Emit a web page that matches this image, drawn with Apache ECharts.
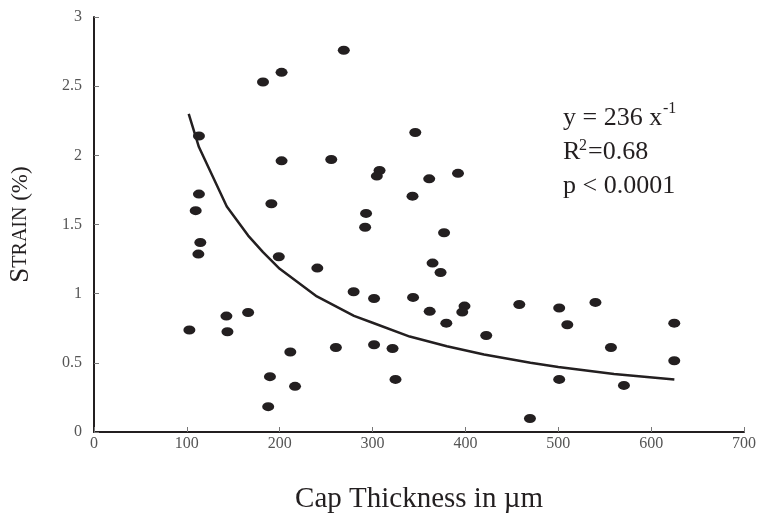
<!DOCTYPE html>
<html>
<head>
<meta charset="utf-8">
<script src="https://cdn.jsdelivr.net/npm/echarts@6/dist/echarts.min.js"></script>
<style>
  html, body { margin: 0; padding: 0; background: #fff; }
  #main { width: 763px; height: 516px; }
</style>
</head>
<body>
<div id="main"></div>
<script>
// cap thickness (um) and strain (%) per plaque
var capThickness = [182, 202, 113, 202, 113, 109.5, 191, 114.5, 269, 346,
  255.5, 307.5, 304.6, 361, 392, 343, 293, 292, 377, 112.4,
  199, 102.7, 142.6, 166, 143.7, 211.4, 189.5, 216.5, 187.6, 240.5,
  364.6, 373.2, 279.6, 301.6, 343.6, 361.5, 399, 396.6, 379.4, 422.4,
  260.5, 301.6, 321.5, 324.7, 458, 501, 540, 509.7, 556.7, 624.9,
  624.9, 501, 570.7, 469.5];
var strain = [2.53, 2.60, 2.14, 1.96, 1.72, 1.60, 1.65, 1.37, 2.76, 2.165,
  1.97, 1.89, 1.85, 1.83, 1.87, 1.705, 1.58, 1.48, 1.44, 1.286,
  1.267, 0.737, 0.838, 0.864, 0.725, 0.578, 0.40, 0.33, 0.183, 1.185,
  1.221, 1.153, 1.014, 0.965, 0.973, 0.872, 0.910, 0.867, 0.787, 0.698,
  0.611, 0.631, 0.604, 0.38, 0.922, 0.896, 0.937, 0.775, 0.611, 0.787,
  0.515, 0.38, 0.337, 0.098];

// fitted curve as drawn in the figure
var fitX = [102, 113, 143, 166, 182, 200, 240, 280, 300, 340, 380, 420, 470, 500, 560, 625];
var fitY = [2.30, 2.06, 1.63, 1.42, 1.30, 1.18, 0.98, 0.84, 0.79, 0.69, 0.62, 0.56, 0.50, 0.47, 0.42, 0.38];

var serif = "'Liberation Serif', 'DejaVu Serif', serif";
var ink = "#231f20";

var points = [];
for (var i = 0; i < capThickness.length; i++) {
  points.push([capThickness[i], strain[i]]);
}
var fit = [];
for (var j = 0; j < fitX.length; j++) {
  fit.push([fitX[j], fitY[j]]);
}

// small helper for the equation text pieces
function txt(text, x, y, size) {
  return {
    type: "text", x: x, y: y,
    style: { text: text, fill: ink, fontFamily: serif, fontSize: size, verticalAlign: "middle" }
  };
}

var myChart = echarts.init(document.getElementById("main"));
myChart.setOption({
  animation: false,
  grid: { left: 94, right: 19, top: 17, bottom: 84, outerBoundsMode: "none" },
  xAxis: {
    type: "value",
    min: 0, max: 700, interval: 100,
    axisLine: { lineStyle: { color: ink, width: 2 } },
    axisTick: { inside: true, length: 5, lineStyle: { color: "#777", width: 1 } },
    axisLabel: { color: "#555", fontFamily: serif, fontSize: 16, margin: 4 },
    splitLine: { show: false },
    name: "Cap Thickness in µm",
    nameLocation: "middle",
    nameGap: 53,
    nameTextStyle: { color: ink, fontFamily: serif, fontSize: 29 }
  },
  yAxis: {
    type: "value",
    min: 0, max: 3, interval: 0.5,
    axisLine: { show: true, lineStyle: { color: ink, width: 2 } },
    axisTick: { show: true, inside: true, length: 5, lineStyle: { color: "#777", width: 1 } },
    axisLabel: { color: "#555", fontFamily: serif, fontSize: 16, margin: 12 },
    splitLine: { show: false },
    name: "{big|S}{small|TRAIN} (%)",
    nameLocation: "middle",
    nameGap: 60,
    nameRotate: 90,
    nameTextStyle: {
      color: ink, fontFamily: serif, fontSize: 23,
      rich: {
        big: { fontFamily: serif, fontSize: 27, color: ink },
        small: { fontFamily: serif, fontSize: 20, color: ink }
      }
    }
  },
  graphic: [
    txt("y = 236 x", 563, 118, 26),
    txt("-1", 663, 109, 16),
    txt("R", 563, 152, 26),
    txt("2", 579, 146, 16),
    txt("=0.68", 588, 152, 26),
    txt("p < 0.0001", 563, 186, 26)
  ],
  series: [
    {
      type: "scatter",
      data: points,
      symbol: "circle",
      symbolSize: [12, 9],
      itemStyle: { color: ink, opacity: 1 },
      z: 3
    },
    {
      type: "line",
      data: fit,
      showSymbol: false,
      smooth: false,
      lineStyle: { color: ink, width: 2.5 },
      z: 2
    }
  ]
});
</script>
</body>
</html>
